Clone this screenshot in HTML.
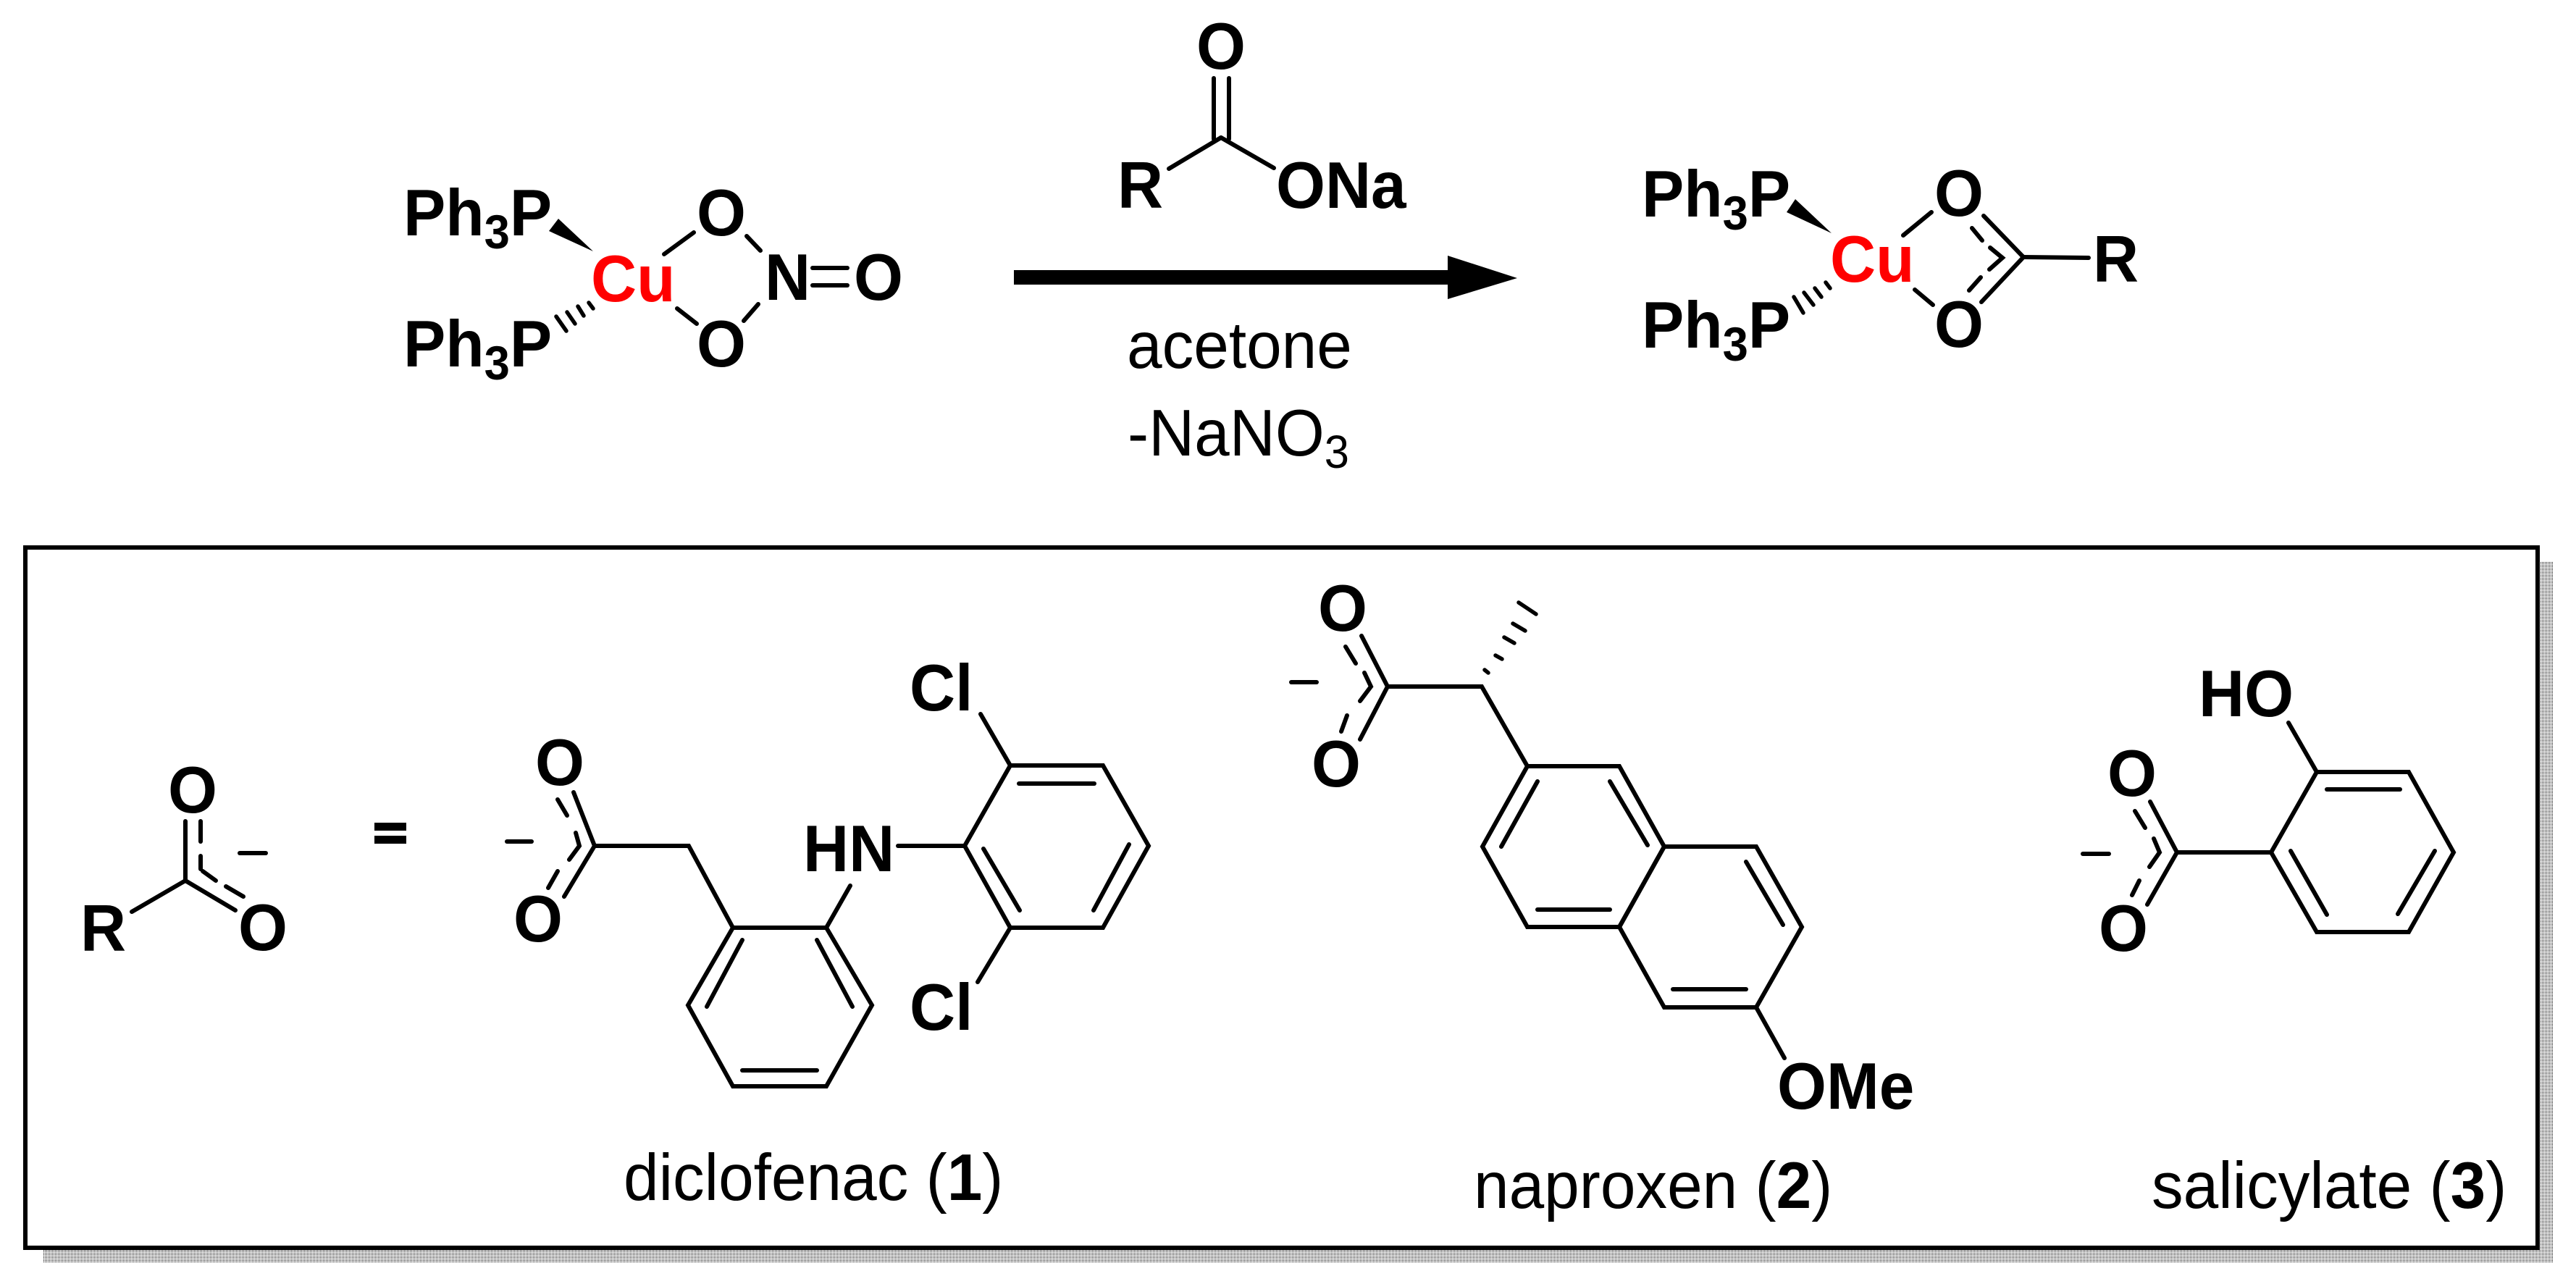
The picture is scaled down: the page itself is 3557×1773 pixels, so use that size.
<!DOCTYPE html>
<html><head><meta charset="utf-8"><style>
html,body{margin:0;padding:0;background:#fff}
svg{display:block}
text{font-family:"Liberation Sans",Arial,sans-serif;fill:#000;font-size:91px}
.b{font-weight:bold}
.m{text-anchor:middle}
.c{font-weight:bold;fill:#f00}
line,polyline,polygon.o{stroke:#000;stroke-width:6;fill:none;stroke-linecap:round;stroke-linejoin:miter}
.h line{stroke-width:5.5}
</style></head><body>
<svg width="3557" height="1773" viewBox="0 0 3557 1773" xmlns="http://www.w3.org/2000/svg">
<defs><pattern id="d" width="2" height="2" patternUnits="userSpaceOnUse"><rect width="1" height="1" fill="#000" shape-rendering="crispEdges"/></pattern></defs>
<rect width="3557" height="1773" fill="#fff"/>

<!-- box + shadow -->
<rect x="3507" y="776" width="18" height="967" fill="url(#d)"/>
<rect x="60" y="1726" width="3447" height="17" fill="url(#d)"/>
<rect x="35" y="756" width="3469" height="967" fill="#fff" stroke="#000" stroke-width="6"/>

<!-- left complex -->
<text class="b" transform="translate(557,325) scale(.96,1)">Ph<tspan font-size="66" dy="18">3</tspan><tspan dy="-18">P</tspan></text>
<text class="b" transform="translate(557,506) scale(.96,1)">Ph<tspan font-size="66" dy="18">3</tspan><tspan dy="-18">P</tspan></text>
<text class="c" transform="translate(816,416) scale(.96,1)">Cu</text>
<text class="b m" transform="translate(996,325) scale(.96,1)">O</text>
<text class="b m" transform="translate(996,506) scale(.96,1)">O</text>
<text class="b" transform="translate(1056,414) scale(.96,1)">N</text>
<text class="b m" transform="translate(1213,414) scale(.96,1)">O</text>
<line x1="1122" y1="370" x2="1170" y2="370"/><line x1="1122" y1="394" x2="1170" y2="394"/>
<line x1="1031" y1="326" x2="1050" y2="346"/><line x1="1047" y1="420" x2="1027" y2="443"/>
<line x1="917" y1="351" x2="958" y2="321"/><line x1="935" y1="426" x2="962" y2="447"/>
<polygon points="819,347 771,302 758,319" fill="#000"/>
<g class="h"><line x1="768" y1="437" x2="782" y2="457"/><line x1="783" y1="431" x2="794" y2="447"/><line x1="798" y1="423" x2="806" y2="436"/><line x1="813" y1="418" x2="819" y2="426"/></g>

<!-- arrow -->
<polygon points="1400,373 1999,373 1999,353 2095,384 1999,413 1999,393 1400,393" fill="#000"/>

<!-- reagent -->
<text class="b m" transform="translate(1686,95) scale(.96,1)">O</text>
<line x1="1676" y1="108" x2="1676" y2="192"/><line x1="1697" y1="108" x2="1697" y2="192"/>
<line x1="1614" y1="233" x2="1686" y2="190"/><line x1="1686" y1="190" x2="1759" y2="232"/>
<text class="b" transform="translate(1543,287) scale(.96,1)">R</text>
<text class="b" transform="translate(1762,287) scale(.96,1)">ONa</text>
<text transform="translate(1556,508) scale(.96,1)">acetone</text>
<text transform="translate(1557,629) scale(.96,1)">-NaNO<tspan font-size="64" dy="17">3</tspan></text>

<!-- right complex -->
<text class="b" transform="translate(2267,299) scale(.96,1)">Ph<tspan font-size="66" dy="18">3</tspan><tspan dy="-18">P</tspan></text>
<text class="b" transform="translate(2267,480) scale(.96,1)">Ph<tspan font-size="66" dy="18">3</tspan><tspan dy="-18">P</tspan></text>
<text class="c" transform="translate(2527,389) scale(.96,1)">Cu</text>
<text class="b m" transform="translate(2705,298) scale(.96,1)">O</text>
<text class="b m" transform="translate(2705,479) scale(.96,1)">O</text>
<text class="b" transform="translate(2890,389) scale(.96,1)">R</text>
<polygon points="2529,322 2479,275 2467,293" fill="#000"/>
<g class="h"><line x1="2477" y1="410" x2="2490" y2="432"/><line x1="2491" y1="404" x2="2504" y2="421"/><line x1="2506" y1="398" x2="2515" y2="410"/><line x1="2521" y1="390" x2="2527" y2="398"/></g>
<line x1="2628" y1="325" x2="2667" y2="293"/><line x1="2644" y1="400" x2="2669" y2="421"/>
<polyline points="2739,298 2794,355 2736,417"/><line x1="2794" y1="355" x2="2884" y2="356"/>
<line x1="2723" y1="315" x2="2737" y2="332"/><polyline points="2748,342 2765,356 2747,372"/><line x1="2735" y1="383" x2="2719" y2="401"/>

<!-- generic carboxylate -->
<text class="b m" transform="translate(266,1122) scale(.96,1)">O</text>
<text class="b m" transform="translate(363,1312) scale(.96,1)">O</text>
<text class="b" transform="translate(111,1313) scale(.96,1)">R</text>
<polyline points="182,1259 256,1216 325,1257"/><line x1="256" y1="1216" x2="256" y2="1134"/>
<line x1="277" y1="1134" x2="277" y2="1162"/><line x1="277" y1="1182" x2="277" y2="1200"/>
<line x1="280" y1="1203" x2="298" y2="1216"/><line x1="312" y1="1224" x2="336" y2="1238"/>
<line x1="331" y1="1178" x2="367" y2="1178" stroke-linecap="butt"/>
<rect x="517" y="1136" width="44" height="11" fill="#000"/><rect x="517" y="1154" width="44" height="11" fill="#000"/>

<!-- diclofenac -->
<text class="b m" transform="translate(773,1084) scale(.96,1)">O</text>
<text class="b m" transform="translate(743,1300) scale(.96,1)">O</text>
<line x1="700" y1="1162" x2="734" y2="1162" stroke-linecap="butt"/>
<polyline points="792,1094 821,1168 779,1238"/>
<polyline points="821,1168 951,1168 1012,1281"/>
<line x1="770" y1="1104" x2="783" y2="1126"/><polyline points="795,1150 800,1168 786,1187"/><line x1="770" y1="1203" x2="757" y2="1226"/>
<polygon class="o" points="1012,1281 1141,1281 1204,1388 1141,1500 1012,1500 950,1388"/>
<line x1="1025" y1="1298" x2="976" y2="1390"/><line x1="1128" y1="1298" x2="1177" y2="1390"/><line x1="1025" y1="1478" x2="1128" y2="1478"/>
<line x1="1141" y1="1281" x2="1174" y2="1223"/>
<text class="b" transform="translate(1109,1203) scale(.96,1)">HN</text>
<line x1="1240" y1="1168" x2="1332" y2="1168"/>
<polygon class="o" points="1332,1168 1395,1057 1523,1057 1586,1168 1523,1281 1395,1281"/>
<line x1="1407" y1="1082" x2="1511" y2="1082"/><line x1="1559" y1="1166" x2="1510" y2="1257"/><line x1="1358" y1="1172" x2="1408" y2="1257"/>
<line x1="1395" y1="1057" x2="1354" y2="986"/><line x1="1395" y1="1281" x2="1350" y2="1356"/>
<text class="b" transform="translate(1256,981) scale(.96,1)">Cl</text>
<text class="b" transform="translate(1256,1422) scale(.96,1)">Cl</text>
<text transform="translate(861,1657) scale(.96,1)">diclofenac (<tspan font-weight="bold">1</tspan>)</text>

<!-- naproxen -->
<text class="b m" transform="translate(1854,871) scale(.96,1)">O</text>
<text class="b m" transform="translate(1845,1086) scale(.96,1)">O</text>
<line x1="1783" y1="942" x2="1818" y2="942" stroke-linecap="butt"/>
<polyline points="1880,878 1916,948 1878,1021"/>
<polyline points="1916,948 2046,948 2109,1058"/>
<line x1="1858" y1="893" x2="1872" y2="916"/><polyline points="1884,929 1893,948 1878,968"/><line x1="1860" y1="988" x2="1852" y2="1010"/>
<g class="h"><line x1="2050" y1="925" x2="2055" y2="929"/><line x1="2065" y1="905" x2="2074" y2="910"/><line x1="2077" y1="880" x2="2091" y2="888"/><line x1="2089" y1="861" x2="2106" y2="871"/><line x1="2097" y1="832" x2="2121" y2="848"/></g>
<polygon class="o" points="2109,1058 2236,1058 2298,1169 2236,1280 2109,1280 2047,1169"/>
<polygon class="o" points="2298,1169 2425,1169 2488,1280 2425,1391 2298,1391 2236,1280"/>
<line x1="2123" y1="1079" x2="2073" y2="1169"/><line x1="2223" y1="1079" x2="2275" y2="1167"/><line x1="2123" y1="1256" x2="2223" y2="1256"/><line x1="2411" y1="1190" x2="2462" y2="1277"/><line x1="2310" y1="1366" x2="2411" y2="1366"/>
<line x1="2425" y1="1391" x2="2464" y2="1461"/>
<text class="b" transform="translate(2454,1531) scale(.96,1)">OMe</text>
<text transform="translate(2035,1668) scale(.96,1)">naproxen (<tspan font-weight="bold">2</tspan>)</text>

<!-- salicylate -->
<text class="b m" transform="translate(2944,1099) scale(.96,1)">O</text>
<text class="b m" transform="translate(2932,1313) scale(.96,1)">O</text>
<line x1="2876" y1="1179" x2="2912" y2="1179" stroke-linecap="butt"/>
<polyline points="2969,1107 3006,1177 2965,1249"/>
<line x1="3006" y1="1177" x2="3136" y2="1177"/>
<line x1="2948" y1="1120" x2="2962" y2="1143"/><polyline points="2974,1158 2982,1177 2968,1197"/><line x1="2954" y1="1216" x2="2944" y2="1236"/>
<polygon class="o" points="3136,1177 3199,1066 3326,1066 3388,1177 3326,1287 3199,1287"/>
<line x1="3213" y1="1090" x2="3314" y2="1090"/><line x1="3362" y1="1175" x2="3311" y2="1262"/><line x1="3163" y1="1175" x2="3213" y2="1263"/>
<line x1="3199" y1="1066" x2="3160" y2="998"/>
<text class="b" transform="translate(3036,989) scale(.96,1)">HO</text>
<text transform="translate(2971,1668) scale(.96,1)">salicylate (<tspan font-weight="bold">3</tspan>)</text>
</svg>
</body></html>
